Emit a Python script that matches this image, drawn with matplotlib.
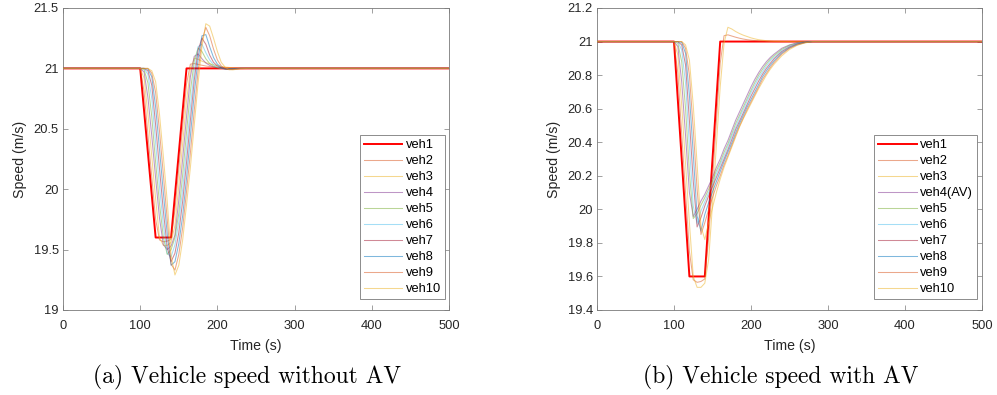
import matplotlib
matplotlib.use("Agg")
import matplotlib.pyplot as plt
from matplotlib.ticker import FormatStrFormatter

# ---------------- data ----------------
time_s = [0, 100, 105, 110, 115, 120, 125, 130, 135, 140, 145, 150, 155, 160, 165, 170,
          175, 180, 185, 190, 195, 200, 205, 210, 215, 220, 225, 230, 240, 250, 260,
          270, 280, 500]

labels_a = ["veh1", "veh2", "veh3", "veh4", "veh5", "veh6", "veh7", "veh8", "veh9", "veh10"]
labels_b = ["veh1", "veh2", "veh3", "veh4(AV)", "veh5", "veh6", "veh7", "veh8", "veh9", "veh10"]

veh1 = [21, 21, 20.65, 20.3, 19.95, 19.6, 19.6, 19.6, 19.6, 19.6, 19.95, 20.3, 20.65, 21,
        21, 21, 21, 21, 21, 21, 21, 21, 21, 21, 21, 21, 21, 21, 21, 21, 21, 21, 21, 21]
veh2 = [21, 21, 20.81, 20.45, 20.1, 19.75, 19.58, 19.565, 19.57, 19.585, 19.83, 20.17, 20.52,
        20.87, 21.035, 21.04, 21.033, 21.026, 21.02, 21.015, 21.011, 21.008, 21.006, 21.004,
        21.003, 21.002, 21.001, 21, 21, 21, 21, 21, 21, 21]
veh3 = [21, 21, 20.92, 20.62, 20.27, 19.92, 19.6, 19.535, 19.535, 19.56, 19.7, 20.03, 20.38,
        20.73, 20.99, 21.085, 21.075, 21.06, 21.048, 21.038, 21.03, 21.022, 21.016, 21.011,
        21.008, 21.005, 21.003, 21.002, 21.001, 21, 21, 21, 21, 21]

# (a) without AV
a_veh4 = [21, 21, 20.97, 20.76, 20.44, 20.09, 19.76, 19.54, 19.5, 19.53, 19.62, 19.91, 20.25,
          20.6, 20.93, 21.1, 21.12, 21.08, 21.045, 21.025, 21.012, 21.005, 21.0, 20.998,
          20.998, 20.999, 21, 21, 21, 21, 21, 21, 21, 21]
a_veh5 = [21, 21, 20.99, 20.88, 20.6, 20.22, 19.88, 19.6, 19.46, 19.5, 19.6, 19.8, 20.12,
          20.47, 20.81, 21.06, 21.17, 21.14, 21.08, 21.04, 21.018, 21.006, 21.0, 20.997,
          20.997, 20.998, 20.999, 21, 21, 21, 21, 21, 21, 21]
a_veh6 = [21, 21, 21, 20.95, 20.75, 20.38, 20.02, 19.7, 19.47, 19.44, 19.54, 19.73, 20.0,
          20.34, 20.68, 20.98, 21.18, 21.2, 21.13, 21.07, 21.03, 21.01, 21.0, 20.996, 20.995,
          20.997, 20.999, 21, 21, 21, 21, 21, 21, 21]
a_veh7 = [21, 21, 21, 20.98, 20.86, 20.53, 20.17, 19.82, 19.52, 19.4, 19.47, 19.64, 19.9,
          20.22, 20.57, 20.9, 21.15, 21.25, 21.2, 21.11, 21.05, 21.02, 21.003, 20.996, 20.994,
          20.996, 20.998, 21, 21, 21, 21, 21, 21, 21]
a_veh8 = [21, 21, 21, 20.995, 20.93, 20.68, 20.33, 19.97, 19.63, 19.37, 19.4, 19.55, 19.78,
          20.09, 20.44, 20.79, 21.08, 21.27, 21.28, 21.18, 21.09, 21.035, 21.008, 20.996,
          20.993, 20.995, 20.998, 21, 21, 21, 21, 21, 21, 21]
a_veh9 = [21, 21, 21, 21, 20.96, 20.8, 20.48, 20.12, 19.75, 19.38, 19.33, 19.46, 19.68,
          19.98, 20.3, 20.65, 20.98, 21.23, 21.34, 21.27, 21.16, 21.07, 21.02, 20.998, 20.99,
          20.992, 20.996, 20.999, 21, 21, 21, 21, 21, 21]
a_veh10 = [21, 21, 21, 21, 20.98, 20.89, 20.62, 20.27, 19.9, 19.45, 19.29, 19.37, 19.58,
           19.87, 20.18, 20.53, 20.88, 21.18, 21.37, 21.35, 21.25, 21.14, 21.05, 21.01, 20.99,
           20.988, 20.993, 20.997, 21, 21, 21, 21, 21, 21]

# (b) with AV (veh4 is the AV)
b_veh4 = [21, 21, 20.97, 20.76, 20.44, 20.1, 19.957, 20.0, 20.05, 20.09, 20.14, 20.19, 20.25,
          20.3, 20.36, 20.41, 20.47, 20.53, 20.58, 20.63, 20.68, 20.73, 20.775, 20.815, 20.85,
          20.88, 20.905, 20.925, 20.96, 20.98, 20.993, 20.998, 21, 21]
b_veh5 = [21, 21, 20.99, 20.88, 20.6, 20.22, 19.945, 19.975, 20.025, 20.07, 20.12, 20.17,
          20.23, 20.28, 20.34, 20.39, 20.45, 20.51, 20.56, 20.61, 20.66, 20.71, 20.757, 20.8,
          20.835, 20.868, 20.895, 20.916, 20.953, 20.977, 20.991, 20.997, 21, 21]
b_veh6 = [21, 21, 21, 20.95, 20.75, 20.38, 20.02, 19.915, 19.99, 20.045, 20.1, 20.15, 20.21,
          20.265, 20.32, 20.375, 20.435, 20.49, 20.545, 20.595, 20.645, 20.695, 20.74, 20.785,
          20.82, 20.855, 20.885, 20.906, 20.946, 20.973, 20.989, 20.996, 21, 21]
b_veh7 = [21, 21, 21, 20.98, 20.86, 20.53, 20.17, 19.895, 19.95, 20.02, 20.08, 20.135, 20.19,
          20.245, 20.3, 20.355, 20.415, 20.475, 20.525, 20.575, 20.625, 20.675, 20.72, 20.765,
          20.805, 20.84, 20.87, 20.897, 20.94, 20.968, 20.986, 20.995, 21, 21]
b_veh8 = [21, 21, 21, 20.995, 20.93, 20.68, 20.33, 19.96, 19.87, 19.97, 20.04, 20.105, 20.165,
          20.225, 20.285, 20.34, 20.395, 20.455, 20.51, 20.56, 20.61, 20.655, 20.7, 20.745,
          20.79, 20.825, 20.858, 20.885, 20.932, 20.963, 20.983, 20.994, 21, 21]
b_veh9 = [21, 21, 21, 21, 20.96, 20.8, 20.48, 20.12, 19.85, 19.92, 20.0, 20.07, 20.14, 20.2,
          20.265, 20.32, 20.38, 20.44, 20.495, 20.545, 20.595, 20.64, 20.685, 20.73, 20.775,
          20.81, 20.845, 20.875, 20.925, 20.96, 20.98, 20.993, 21, 21]
b_veh10 = [21, 21, 21, 21, 20.98, 20.89, 20.62, 20.27, 19.9, 19.82, 19.92, 20.01, 20.1, 20.18,
           20.25, 20.31, 20.37, 20.43, 20.49, 20.54, 20.585, 20.63, 20.675, 20.72, 20.76, 20.8,
           20.835, 20.865, 20.915, 20.953, 20.978, 20.992, 21, 21]

series_a = [veh1, veh2, veh3, a_veh4, a_veh5, a_veh6, a_veh7, a_veh8, a_veh9, a_veh10]
series_b = [veh1, veh2, veh3, b_veh4, b_veh5, b_veh6, b_veh7, b_veh8, b_veh9, b_veh10]

x_ticks = [0, 100, 200, 300, 400, 500]
y_ticks_a = [19, 19.5, 20, 20.5, 21, 21.5]
y_ticks_b = [19.4, 19.6, 19.8, 20, 20.2, 20.4, 20.6, 20.8, 21, 21.2]

captions = ["(a) Vehicle speed without AV", "(b) Vehicle speed with AV"]

# ---------------- style ----------------
colors = ["#FF0000", "#D95319", "#EDB120", "#7E2F8E", "#77AC30", "#4DBEEE",
          "#A2142F", "#0072BD", "#D95319", "#EDB120"]
plt.rcParams["font.family"] = ["Liberation Sans", "DejaVu Sans"]

fig = plt.figure(figsize=(9.97, 3.95), dpi=100)
W, H = 997, 395
ax_a = fig.add_axes([63 / W, (H - 310) / H, 386 / W, 302 / H])
ax_b = fig.add_axes([597 / W, (H - 310) / H, 385 / W, 302 / H])

frame_col = "#7a7a7a"
text_col = "#262626"
tick_fs = 9.3
label_fs = 10.2
follower_alpha = 0.5

for ax, series, labels, yt, ylim, cap, capx, legx in [
        (ax_a, series_a, labels_a, y_ticks_a, (19, 21.5), captions[0], 247, 0.769),
        (ax_b, series_b, labels_b, y_ticks_b, (19.4, 21.2), captions[1], 781, 0.7195)]:
    for i, (ys, lab) in enumerate(zip(series, labels)):
        if i == 0:
            ax.plot(time_s, ys, color=colors[i], lw=1.4, label=lab, zorder=2)
        else:
            ax.plot(time_s, ys, color=colors[i], lw=0.75, alpha=follower_alpha,
                    label=lab, zorder=3)
    ax.set_xlim(0, 500)
    ax.set_ylim(*ylim)
    ax.set_xticks(x_ticks)
    ax.set_yticks(yt)
    ax.yaxis.set_major_formatter(FormatStrFormatter("%g"))
    ax.tick_params(direction="in", top=True, right=True, length=3.5, width=0.5,
                   labelsize=tick_fs, colors=frame_col, labelcolor=text_col, pad=3)
    ax.tick_params(axis="x", pad=7)
    for sp in ax.spines.values():
        sp.set_color(frame_col)
        sp.set_linewidth(0.6)
    ax.set_xlabel("Time (s)", fontsize=label_fs, color=text_col, labelpad=5.5)
    ax.set_ylabel("Speed (m/s)", fontsize=label_fs, color=text_col, labelpad=5)
    leg = ax.legend(loc="upper left", bbox_to_anchor=(legx, 0.579),
                    fontsize=tick_fs, frameon=True, fancybox=False, framealpha=1,
                    edgecolor=frame_col, handlelength=3.0, handletextpad=0.25,
                    labelspacing=0.31, borderpad=0.3, borderaxespad=0.0)
    leg.get_frame().set_linewidth(0.6)
    for t in leg.get_texts():
        t.set_color("black")
    for lh in leg.get_lines():
        lh.set_alpha(follower_alpha)
    leg.get_lines()[0].set_alpha(1)
    fig.text(capx / W, (H - 377) / H, cap, family="cmr10", fontsize=17,
             ha="center", va="center", color="black")

fig.savefig("out.png", dpi=100)
